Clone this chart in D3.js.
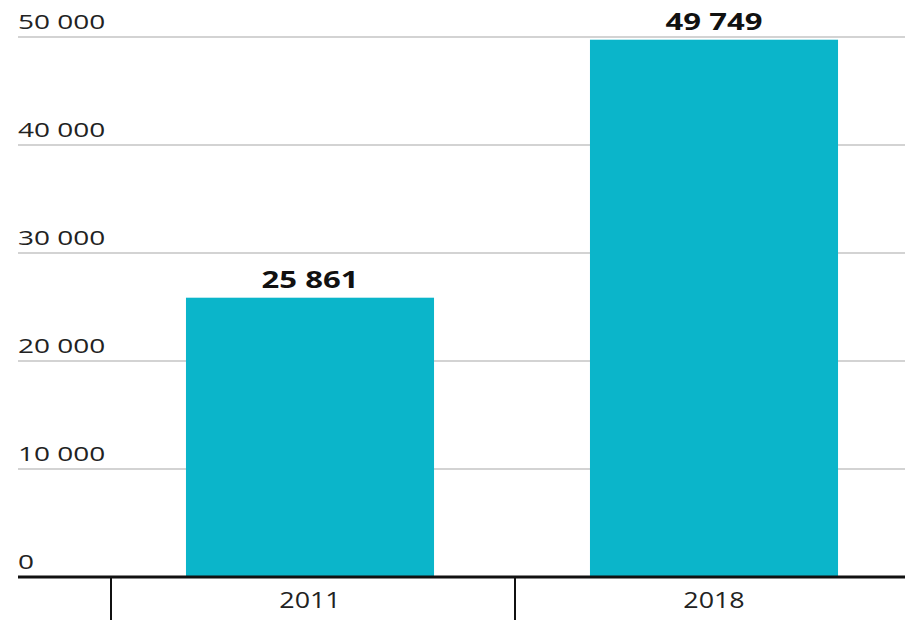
<!DOCTYPE html>
<html>
<head>
<meta charset="utf-8">
<script src="https://cdn.jsdelivr.net/npm/d3@7"></script>
<style>
  html, body { margin: 0; padding: 0; background: #fff; }
  svg { display: block; font-family: "Open Sans", sans-serif; }
</style>
</head>
<body>
<svg id="chart" width="905" height="620"></svg>
<script>
const years = ['2011', '2018'];
const values = [25861, 49749];
const yTicks = [0, 10000, 20000, 30000, 40000, 50000];

const width = 905;
const height = 620;
const left = 18;
const baseY = 577;
const topY = 37;

const locale = d3.formatLocale({ decimal: ',', thousands: ' ', grouping: [3], currency: ['', ''] });
const fmt = locale.format(',d');

const svg = d3.select('#chart');

// bars
const x = d3.scaleBand()
  .domain(years)
  .range([108, 916])
  .paddingInner(0.386)
  .paddingOuter(0.193);

// category separators
const sep = d3.scaleBand()
  .domain(years)
  .range([111, 919]);

const y = d3.scaleLinear()
  .domain([0, 50000])
  .range([baseY, topY]);

// gridlines + labels
const grid = svg.append('g');
grid.selectAll('line')
  .data(yTicks.filter(d => d > 0))
  .join('line')
  .attr('x1', left)
  .attr('x2', width)
  .attr('y1', d => y(d))
  .attr('y2', d => y(d))
  .attr('stroke', '#d3d3d3')
  .attr('stroke-width', 2);

grid.selectAll('text')
  .data(yTicks)
  .join('text')
  .attr('transform', d => `translate(${left},${y(d) - 8}) scale(1.4,1)`)
  .attr('font-size', 20)
  .attr('fill', '#222')
  .text(d => fmt(d));

svg.append('g').selectAll('rect')
  .data(values)
  .join('rect')
  .attr('x', (d, i) => x(years[i]))
  .attr('width', x.bandwidth())
  .attr('y', d => y(d))
  .attr('height', d => y(0) - y(d))
  .attr('fill', '#0bb5ca');

// value labels
svg.append('g').selectAll('text')
  .data(values)
  .join('text')
  .attr('transform', (d, i) => `translate(${x(years[i]) + x.bandwidth() / 2},${y(d) - 10}) scale(1.38,1)`)
  .attr('text-anchor', 'middle')
  .attr('font-size', 22.5)
  .attr('font-weight', 'bold')
  .attr('fill', '#111')
  .text(d => fmt(d));

// baseline
svg.append('line')
  .attr('x1', left)
  .attr('x2', width)
  .attr('y1', y(0))
  .attr('y2', y(0))
  .attr('stroke', '#111')
  .attr('stroke-width', 3);

svg.append('g').selectAll('line')
  .data(years)
  .join('line')
  .attr('x1', d => sep(d))
  .attr('x2', d => sep(d))
  .attr('y1', y(0))
  .attr('y2', height)
  .attr('stroke', '#111')
  .attr('stroke-width', 2);

// category labels
svg.append('g').selectAll('text')
  .data(years)
  .join('text')
  .attr('transform', d => `translate(${x(d) + x.bandwidth() / 2},608) scale(1.28,1)`)
  .attr('text-anchor', 'middle')
  .attr('font-size', 21)
  .attr('fill', '#222')
  .text(d => d);
</script>
</body>
</html>
